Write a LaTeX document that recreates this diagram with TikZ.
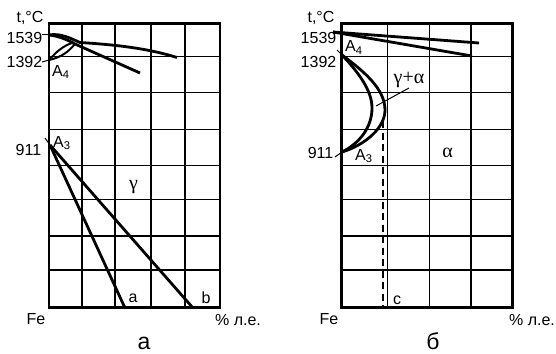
\documentclass[tikz,border=0pt]{standalone}
\usepackage{fontspec}
\setmainfont{Liberation Sans}
\newfontfamily\grk{Liberation Serif}
\usetikzlibrary{positioning}

\begin{document}
\begin{tikzpicture}[
  x=1pt, y=1pt,
  font=\fontsize{16}{18}\selectfont,
  g/.style={line width=1.6pt},
  fr/.style={line width=2.6pt},
  cv/.style={line width=2.8pt},
  tk/.style={line width=1pt},
  lb/.style={inner sep=0pt},
  ai/.style={inner sep=0pt, anchor=base west},
  gr/.style={inner sep=0pt, font=\fontsize{20}{22}\selectfont\grk},
  capt/.style={inner sep=0pt, anchor=base, font=\fontsize{23}{25}\selectfont}]
\useasboundingbox (0,0) rectangle (556,-353);

% left diagram
\foreach \x in {82,115,151,185} \draw[g] (\x,-23.5) -- (\x,-307.7);
\foreach \y in {56.5,92.5,129.5,165.5,199.5,235.7,270.2} \draw[g] (49,-\y) -- (220,-\y);
\draw[fr] (49,-23.5) rectangle (220,-307.7);

\coordinate (p1539) at (49,-35);
\coordinate (p1392) at (49,-60);
\coordinate (p911) at (50,-145);
\coordinate (pa) at (125,-308);
\coordinate (pb) at (193,-308);

\draw[cv] (p1539) .. controls (60,-33) and (70,-38) .. (80,-42.5) .. controls (120,-45) and (150,-49) .. (177,-57.5);
\draw[cv] (p1539) .. controls (58,-36) and (66,-39) .. (75,-44) -- (140,-73);
\draw[cv, line width=2pt] (p1392) .. controls (56,-52) and (63,-46) .. (72,-43);
\draw[cv, line width=2pt] (p1392) .. controls (62,-57) and (68,-52) .. (75,-44);
\draw[cv] (p911) -- (pa);
\draw[cv] (p911) -- (pb);

\node[lb] (tA) at (30,-18) {t,°C};
\node[lb] (n1539A) at (24.5,-38) {1539};
\node[lb] (n1392A) at (24.5,-62) {1392};
\node[lb] (n911A) at (28.5,-150) {911};
\node[ai] (A4A) at (52,-76) {A\textsubscript{4}};
\node[ai] (A3A) at (53,-147) {A\textsubscript{3}};
\node[gr] (gamA) at (133.5,-187) {γ};
\node[lb] (la) at (133,-298) {a};
\node[lb] (lb) at (206,-298) {b};
\node[lb] (FeA) at (36,-319) {Fe};
\node[lb] (pcA) at (238,-320) {\% л.е.};
\node[capt] (capA) at (144,-349) {а};

\coordinate (k1539) at (42,-35);
\coordinate (k1392) at (42,-62);
\coordinate (k911) at (45,-138);
\draw[tk] (k1539) -- (p1539);
\draw[tk] (k1392) -- (p1392);
\draw[tk] (k911) -- (p911);

% right diagram
\foreach \x in {387.3,429.3,471} \draw[g] (\x,-23.5) -- (\x,-307.7);
\foreach \y in {56.5,92.5,129.5,165.5,199.5,235.7,270.2} \draw[g] (341.5,-\y) -- (512.5,-\y);
\draw[fr] (341.5,-23.5) rectangle (512.5,-307.7);

\coordinate (q1539) at (333,-32);
\coordinate (q1392) at (342,-55);
\coordinate (q911) at (342,-152);
\coordinate (qc) at (382.5,-121);

\draw[cv] (q1539) -- (479,-43);
\draw[cv] (q1539) -- (472,-56);
\draw[cv] (q1392) .. controls (362,-70) and (385,-88) .. (385,-110) .. controls (385,-128) and (365,-145) .. (q911);
\draw[cv] (q1392) .. controls (358,-72) and (372,-90) .. (372,-108) .. controls (372,-127) and (360,-143) .. (q911);
\draw[line width=2pt, dash pattern=on 7pt off 4.5pt] (qc) -- (382.5,-308);

\node[lb] (tB) at (321,-18) {t,°C};
\node[lb] (n1539B) at (318.5,-38) {1539};
\node[lb] (n1392B) at (318.5,-62) {1392};
\node[lb] (n911B) at (320.5,-153) {911};
\node[ai] (A4B) at (345,-52) {A\textsubscript{4}};
\node[ai] (A3B) at (355,-160) {A\textsubscript{3}};
\node[gr] (gaB) at (409,-80) {γ+α};
\node[gr] (alB) at (447.5,-153) {α};
\node[lb] (lc) at (397,-300) {c};
\node[lb] (FeB) at (329,-319) {Fe};
\node[lb] (pcB) at (532,-320) {\% л.е.};
\node[capt] (capB) at (433,-349) {б};

\coordinate (k1392B) at (337,-50);
\coordinate (k911B) at (335,-157);
\coordinate (kg1) at (376,-106);
\coordinate (kg2) at (409,-88);
\draw[tk] (k1392B) -- (q1392);
\draw[tk] (k911B) -- (q911);
\draw[tk] (kg1) -- (kg2);
\end{tikzpicture}
\end{document}
